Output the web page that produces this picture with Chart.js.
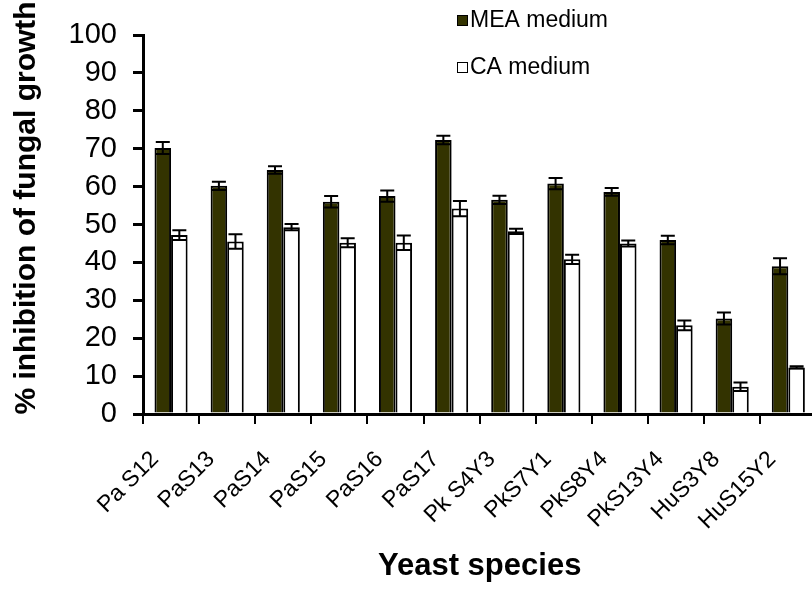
<!DOCTYPE html>
<html>
<head>
<meta charset="utf-8">
<script src="https://cdn.jsdelivr.net/npm/chart.js@4/dist/chart.umd.min.js"></script>
<style>
  html, body { margin: 0; padding: 0; background: #fff; overflow: hidden; }
  #wrap { position: absolute; left: 0; top: 0; width: 830px; height: 590px; }
</style>
</head>
<body>
<div id="wrap"><canvas id="c"></canvas></div>
<script>
const categories = ['Pa S12', 'PaS13', 'PaS14', 'PaS15', 'PaS16', 'PaS17', 'Pk S4Y3', 'PkS7Y1', 'PkS8Y4', 'PkS13Y4', 'HuS3Y8', 'HuS15Y2'];
const meaValues = [70.2, 60.2, 64.4, 56.0, 57.5, 72.3, 56.5, 60.8, 58.6, 45.9, 25.2, 39.0];
const meaErrors = [1.6, 1.1, 1.0, 1.5, 1.5, 1.1, 1.1, 1.5, 1.0, 1.1, 1.6, 2.1];
const caValues = [47.2, 45.5, 49.3, 45.2, 45.2, 54.2, 48.2, 40.8, 45.0, 23.4, 7.2, 12.3];
const caErrors = [1.3, 1.9, 0.8, 1.2, 1.9, 2.0, 0.7, 1.2, 0.8, 1.3, 1.1, 0.3];
const seriesNames = ['MEA medium', 'CA medium'];
const yTicks = [0, 10, 20, 30, 40, 50, 60, 70, 80, 90, 100];
const yTitle = '% inhibition of fungal growth';
const xTitle = 'Yeast species';

const FONT = "'Liberation Sans', Arial, sans-serif";
const DARK = '#333300';

const errorBars = {
  id: 'errorBars',
  afterDatasetsDraw(chart) {
    const ctx = chart.ctx;
    const y = chart.scales.y;
    ctx.save();
    ctx.strokeStyle = '#000';
    ctx.lineWidth = 2;
    chart.data.datasets.forEach((ds, i) => {
      const meta = chart.getDatasetMeta(i);
      meta.data.forEach((bar, j) => {
        const v = ds.data[j], e = ds.errors[j];
        const top = y.getPixelForValue(v + e);
        const bot = y.getPixelForValue(v - e);
        const x = bar.x, hw = 7;
        ctx.beginPath();
        ctx.moveTo(x, top); ctx.lineTo(x, bot);
        ctx.moveTo(x - hw, top); ctx.lineTo(x + hw, top);
        ctx.moveTo(x - hw, bot); ctx.lineTo(x + hw, bot);
        ctx.stroke();
      });
    });
    ctx.restore();
  }
};

const customText = {
  id: 'customText',
  afterDraw(chart) {
    const ctx = chart.ctx;
    ctx.save();
    // legend
    ctx.font = '23px ' + FONT;
    ctx.textBaseline = 'middle';
    ctx.textAlign = 'left';
    const items = [
      { name: seriesNames[0], fill: DARK, cy: 20 },
      { name: seriesNames[1], fill: '#fff', cy: 67 }
    ];
    items.forEach(it => {
      ctx.fillStyle = it.fill;
      ctx.fillRect(457, it.cy - 5, 11, 11);
      ctx.strokeStyle = '#000';
      ctx.lineWidth = 1;
      ctx.strokeRect(457.5, it.cy - 4.5, 10, 10);
      ctx.fillStyle = '#000';
      ctx.fillText(it.name, 470, it.cy + 1);
    });
    // y axis title
    ctx.translate(27, 208);
    ctx.rotate(-Math.PI / 2);
    ctx.font = 'bold 30px ' + FONT;
    ctx.textAlign = 'center';
    ctx.textBaseline = 'middle';
    ctx.fillStyle = '#000';
    ctx.fillText(yTitle, 0, 0);
    ctx.restore();
  }
};

new Chart(document.getElementById('c'), {
  type: 'bar',
  data: {
    labels: categories,
    datasets: [
      { label: seriesNames[0], data: meaValues, errors: meaErrors, backgroundColor: DARK, borderColor: '#000', borderWidth: 2, categoryPercentage: 0.59, barPercentage: 1.0 },
      { label: seriesNames[1], data: caValues, errors: caErrors, backgroundColor: '#fff', borderColor: '#000', borderWidth: 2, categoryPercentage: 0.59, barPercentage: 1.0 }
    ]
  },
  options: {
    responsive: true,
    maintainAspectRatio: false,
    animation: false,
    layout: { padding: { left: 0, right: 4, top: 35, bottom: 0 } },
    plugins: { legend: { display: false }, tooltip: { enabled: false } },
    scales: {
      x: {
        grid: { display: true, drawOnChartArea: false, color: '#000', lineWidth: 2, tickLength: 10, offset: true },
        border: { display: true, color: '#000', width: 3 },
        ticks: { color: '#000', font: { family: FONT, size: 23 }, maxRotation: 45, minRotation: 45, padding: 22, labelOffset: -16, autoSkip: false },
        title: { display: true, text: xTitle, color: '#000', font: { family: FONT, size: 31, weight: 'bold' }, padding: { top: 0, bottom: 5 } },
        afterFit(scale) { scale.height = 590 - 414; }
      },
      y: {
        min: 0, max: 100,
        afterBuildTicks(scale) { scale.ticks = yTicks.map(v => ({ value: v })); },
        grid: { display: true, drawOnChartArea: false, color: '#000', lineWidth: 3, tickLength: 10 },
        border: { display: true, color: '#000', width: 3 },
        ticks: { color: '#000', font: { family: FONT, size: 29 }, padding: 16 },
        title: { display: false },
        afterFit(scale) { scale.width = 143; }
      }
    }
  },
  plugins: [errorBars, customText]
});
</script>
</body>
</html>
